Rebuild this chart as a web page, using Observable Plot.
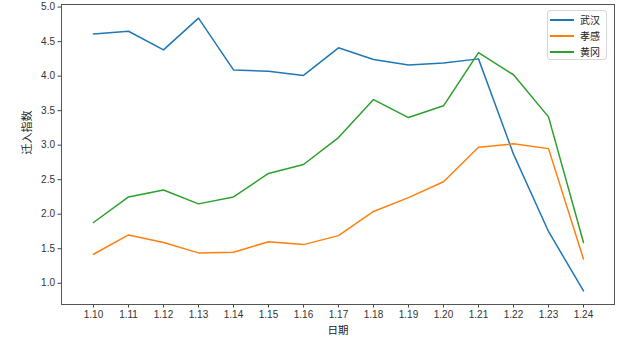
<!DOCTYPE html>
<html><head><meta charset="utf-8">
<script src="https://cdn.jsdelivr.net/npm/d3@7"></script>
<script src="https://cdn.jsdelivr.net/npm/@observablehq/plot@0.6"></script>
<style>
body{margin:0;background:#fff;font-family:"Noto Sans CJK SC",sans-serif}
#wrap{position:relative;width:619px;height:342px}
#legend{position:absolute;left:547px;top:10px;width:60px;height:50px;box-sizing:border-box;border:1px solid #d6d6d6;border-radius:3px;background:rgba(255,255,255,0.85);font-size:10px;color:#222}
#legend .row{position:absolute;left:0;height:16px;width:100%}
#legend .sw{position:absolute;left:2px;top:7px;width:24px;height:2px}
#legend .lb{position:absolute;left:32px;top:0;line-height:16px}
</style></head><body><div id="wrap"></div>
<script>
const dates = ["1.10","1.11","1.12","1.13","1.14","1.15","1.16","1.17","1.18","1.19","1.20","1.21","1.22","1.23","1.24"];
const wuhan = [4.61,4.65,4.38,4.84,4.09,4.07,4.01,4.41,4.24,4.16,4.19,4.25,2.87,1.75,0.89];
const xiaogan = [1.42,1.70,1.59,1.44,1.45,1.60,1.56,1.69,2.04,2.24,2.47,2.97,3.02,2.95,1.35];
const huanggang = [1.88,2.25,2.35,2.15,2.25,2.59,2.72,3.11,3.66,3.40,3.57,4.34,4.02,3.41,1.59];
const seriesNames = ["武汉","孝感","黄冈"];
const colors = ["#1f77b4","#ff7f0e","#2ca02c"];
const yTicks = [1.0,1.5,2.0,2.5,3.0,3.5,4.0,4.5,5.0];
const xLabel = "日期";
const yLabel = "迁入指数";

const allSeries = [wuhan, xiaogan, huanggang];
const rows = [];
allSeries.forEach((vals, si) => vals.forEach((v, i) => rows.push({date: dates[i], value: v, series: seriesNames[si]})));
const all = allSeries.flat();
const lo = d3.min(all), hi = d3.max(all), pad = (hi - lo) * 0.05;
const tickFont = "'Liberation Sans', 'DejaVu Sans', sans-serif";

const chart = Plot.plot({
  width: 619, height: 342,
  marginLeft: 61, marginRight: 5, marginTop: 4, marginBottom: 38,
  style: {fontFamily: "'Noto Sans CJK SC', sans-serif", fontSize: "10px", color: "#222", background: "#fff"},
  x: {type: "point", domain: dates, padding: 0.7, label: null},
  y: {domain: [lo - pad, hi + pad], label: null},
  color: {domain: seriesNames, range: colors},
  marks: [
    Plot.axisX({tickSize: 3.5, tickPadding: 3, label: null, stroke: "#444", fontFamily: tickFont, fill: "#333"}),
    Plot.axisY({ticks: yTicks, tickFormat: d3.format(".1f"), tickSize: 3.5, tickPadding: 3, label: null, stroke: "#444", fontFamily: tickFont, fill: "#333"}),
    Plot.line(rows, {x: "date", y: "value", z: "series", stroke: "series", strokeWidth: 1.5}),
    Plot.frame({stroke: "#555", strokeWidth: 1}),
    Plot.text([xLabel], {text: d => d, frameAnchor: "bottom", dy: 29, fontSize: 10.5, fill: "#222"}),
    Plot.text([yLabel], {text: d => d, frameAnchor: "left", dx: -34, rotate: -90, fontSize: 11, fill: "#222"})
  ]
});
const wrap = document.getElementById("wrap");
wrap.appendChild(chart);

const legend = document.createElement("div");
legend.id = "legend";
seriesNames.forEach((name, i) => {
  const row = document.createElement("div");
  row.className = "row";
  row.style.top = (1 + i * 16) + "px";
  const sw = document.createElement("div");
  sw.className = "sw";
  sw.style.background = colors[i];
  const lb = document.createElement("div");
  lb.className = "lb";
  lb.textContent = name;
  row.appendChild(sw); row.appendChild(lb);
  legend.appendChild(row);
});
wrap.appendChild(legend);
</script>
</body></html>
